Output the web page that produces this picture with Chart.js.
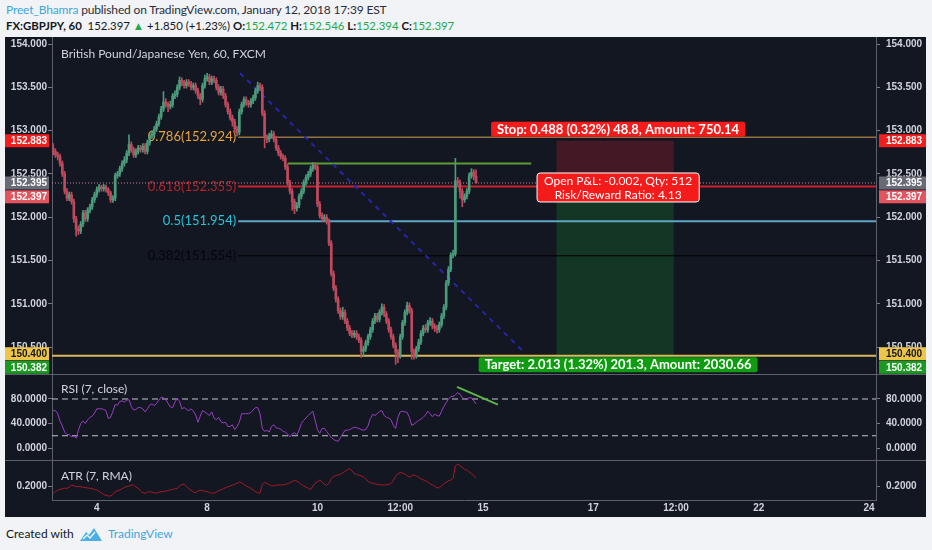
<!DOCTYPE html>
<html>
<head>
<meta charset="utf-8">
<title>GBPJPY 60</title>
<script src="https://cdn.jsdelivr.net/npm/chart.js@4.4.1/dist/chart.umd.min.js"></script>
<style>
  body { margin: 0; background: #f1f3f6; font-family: Lato, "Open Sans", sans-serif; }
  #page { position: relative; width: 932px; height: 550px; overflow: hidden; }
  .hdr { position: absolute; left: 6px; white-space: nowrap; }
  #h1 { top: 2px; font-size: 12px; letter-spacing: -0.15px; color: #2a2e39; }
  #h1 .user { color: #3ea6dd; }
  #h2 { top: 19px; font-size: 11.4px; color: #131722; }
  #h2 .g { color: #22a84a; }
  #dark { position: absolute; left: 5px; top: 37px; width: 921px; height: 480px; background: #131722; }
  canvas { position: absolute; left: 5px; }
  .sep { position: absolute; left: 5px; width: 921px; height: 1px; background: #5d606b; }
  #foot { position: absolute; left: 6px; top: 526px; font-size: 12px; color: #131722; display: flex; align-items: center; white-space: nowrap; }
  #foot .tv { color: #3ea6dd; margin-left: 6px; }
</style>
</head>
<body>
<div id="page">
  <div class="hdr" id="h1"><span class="user">Preet_Bhamra</span> published on TradingView.com, January 12, 2018 17:39 EST</div>
  <div class="hdr" id="h2"><b>FX:GBPJPY, 60</b>&nbsp; 152.397 <span class="g">&#9650;</span> +1.850 (+1.23%) <b>O:</b><span class="g">152.472</span> <b>H:</b><span class="g">152.546</span> <b>L:</b><span class="g">152.394</span> <b>C:</b><span class="g">152.397</span></div>
  <div id="dark"></div>
  <canvas id="main" width="921" height="337" style="top:37px"></canvas>
  <div class="sep" style="top:374px"></div>
  <canvas id="rsi" width="921" height="85" style="top:375px"></canvas>
  <div class="sep" style="top:460px"></div>
  <canvas id="atr" width="921" height="56" style="top:461px"></canvas>
  <div id="foot">Created with&nbsp;&nbsp;
    <svg width="22" height="14" viewBox="0 0 22 14"><path d="M0 14 L6 5 L9 8 L14 1 L22 14 Z" fill="#48b0e6"/><path d="M3 12 L7 8 L10 11 L15 5" stroke="#f1f3f6" stroke-width="1.4" fill="none"/></svg>
    <span class="tv">TradingView</span></div>
</div>
<script>
// hourly candles
var opens = [
  152.80,152.76,152.72,152.70,152.62,152.50,152.30,152.22,152.26,152.18,
  151.98,151.86,151.84,151.92,152.05,151.98,152.08,152.12,152.20,152.26,
  152.32,152.35,152.33,152.35,152.32,152.28,152.20,152.22,152.48,152.50,
  152.56,152.62,152.66,152.74,152.84,152.78,152.72,152.76,152.80,152.78,
  152.82,152.76,152.86,152.94,152.96,153.02,153.08,153.16,153.25,153.33,
  153.30,153.28,153.30,153.40,153.42,153.50,153.58,153.55,153.52,153.56,
  153.54,153.50,153.52,153.46,153.40,153.36,153.52,153.60,153.62,153.56,
  153.60,153.58,153.50,153.44,153.48,153.40,153.30,153.22,153.15,153.10,
  153.02,152.98,153.22,153.30,153.36,153.32,153.30,153.34,153.38,153.46,
  153.52,153.50,153.20,152.92,152.90,152.94,152.96,152.90,152.80,152.74,
  152.70,152.68,152.58,152.40,152.30,152.18,152.10,152.14,152.24,152.30,
  152.40,152.46,152.50,152.56,152.60,152.58,152.15,152.02,151.98,152.00,
  151.95,151.70,151.35,151.18,151.05,150.92,150.85,150.90,150.80,150.72,
  150.66,150.64,150.66,150.62,150.58,150.45,150.48,150.55,150.62,150.70,
  150.80,150.86,150.82,150.90,150.96,150.88,150.80,150.70,150.62,150.52,
  150.44,150.40,150.62,150.78,150.90,150.98,150.92,150.45,150.40,150.48,
  150.56,150.66,150.72,150.70,150.78,150.80,150.74,150.72,150.70,150.76,
  150.86,150.96,151.24,151.40,151.56,151.58,152.42,152.40,152.30,152.20,
  152.24,152.30,152.48,152.52,152.472
];
var highs = [
  152.85,152.79,152.75,152.73,152.65,152.53,152.33,152.29,152.29,152.21,
  152.01,151.90,151.95,152.08,152.08,152.11,152.15,152.23,152.29,152.35,
  152.38,152.37,152.38,152.37,152.34,152.30,152.25,152.51,152.53,152.59,
  152.65,152.70,152.77,152.95,152.87,152.81,152.79,152.83,152.83,152.85,
  152.85,152.89,152.97,153.00,153.05,153.11,153.19,153.28,153.45,153.37,
  153.33,153.34,153.43,153.46,153.53,153.62,153.61,153.58,153.59,153.59,
  153.57,153.55,153.55,153.49,153.43,153.55,153.64,153.66,153.65,153.63,
  153.63,153.61,153.53,153.51,153.51,153.43,153.33,153.25,153.18,153.13,
  153.05,153.25,153.33,153.39,153.39,153.35,153.37,153.41,153.49,153.56,
  153.55,153.53,153.23,152.95,152.97,153.00,152.99,152.93,152.83,152.77,
  152.73,152.71,152.61,152.43,152.33,152.21,152.17,152.27,152.33,152.43,
  152.49,152.53,152.59,152.63,152.63,152.61,152.18,152.05,152.03,152.03,
  151.98,151.73,151.38,151.21,151.08,150.95,150.96,150.93,150.83,150.75,
  150.69,150.69,150.69,150.65,150.61,150.51,150.58,150.65,150.73,150.83,
  150.89,150.89,150.93,151.00,150.99,150.91,150.83,150.73,150.65,150.55,
  150.47,150.65,150.81,150.93,151.02,151.01,150.95,150.48,150.51,150.59,
  150.69,150.75,150.76,150.81,150.84,150.83,150.77,150.75,150.79,150.89,
  150.99,151.27,151.43,151.59,151.62,152.68,152.46,152.43,152.33,152.27,
  152.33,152.51,152.56,152.55,152.546
];
var lows = [
  152.72,152.69,152.66,152.59,152.47,152.27,152.19,152.19,152.15,151.94,
  151.78,151.80,151.81,151.89,151.95,151.95,152.05,152.09,152.17,152.23,
  152.29,152.30,152.30,152.29,152.25,152.17,152.17,152.19,152.45,152.47,
  152.53,152.59,152.63,152.71,152.75,152.69,152.69,152.73,152.75,152.75,
  152.73,152.73,152.83,152.91,152.93,152.99,153.05,153.13,153.22,153.27,
  153.22,153.25,153.27,153.37,153.39,153.47,153.52,153.49,153.49,153.51,
  153.47,153.47,153.43,153.37,153.30,153.33,153.49,153.57,153.53,153.53,
  153.55,153.47,153.41,153.41,153.37,153.27,153.19,153.12,153.05,152.97,
  152.94,152.95,153.19,153.27,153.29,153.27,153.27,153.31,153.35,153.43,
  153.46,153.17,152.80,152.86,152.87,152.91,152.87,152.77,152.71,152.67,
  152.65,152.55,152.37,152.27,152.08,152.04,152.07,152.11,152.21,152.27,
  152.37,152.43,152.47,152.53,152.55,152.12,151.99,151.95,151.95,151.92,
  151.67,151.32,151.15,151.02,150.89,150.82,150.82,150.77,150.69,150.63,
  150.61,150.61,150.59,150.55,150.38,150.40,150.45,150.52,150.59,150.67,
  150.77,150.79,150.79,150.87,150.85,150.77,150.67,150.59,150.49,150.30,
  150.32,150.37,150.59,150.75,150.87,150.89,150.36,150.36,150.37,150.45,
  150.53,150.63,150.67,150.67,150.75,150.71,150.68,150.66,150.67,150.73,
  150.83,150.93,151.21,151.37,151.53,151.55,152.36,152.22,152.12,152.17,
  152.21,152.27,152.45,152.43,152.394
];
var closes = [
  152.76,152.72,152.70,152.62,152.50,152.30,152.22,152.26,152.18,151.98,
  151.86,151.84,151.92,152.05,151.98,152.08,152.12,152.20,152.26,152.32,
  152.35,152.33,152.35,152.32,152.28,152.20,152.22,152.48,152.50,152.56,
  152.62,152.66,152.74,152.84,152.78,152.72,152.76,152.80,152.78,152.82,
  152.76,152.86,152.94,152.96,153.02,153.08,153.16,153.25,153.33,153.30,
  153.28,153.30,153.40,153.42,153.50,153.58,153.55,153.52,153.56,153.54,
  153.50,153.52,153.46,153.40,153.36,153.52,153.60,153.62,153.56,153.60,
  153.58,153.50,153.44,153.48,153.40,153.30,153.22,153.15,153.10,153.02,
  152.98,153.22,153.30,153.36,153.32,153.30,153.34,153.38,153.46,153.52,
  153.50,153.20,152.92,152.90,152.94,152.96,152.90,152.80,152.74,152.70,
  152.68,152.58,152.40,152.30,152.18,152.10,152.14,152.24,152.30,152.40,
  152.46,152.50,152.56,152.60,152.58,152.15,152.02,151.98,152.00,151.95,
  151.70,151.35,151.18,151.05,150.92,150.85,150.90,150.80,150.72,150.66,
  150.64,150.66,150.62,150.58,150.45,150.48,150.55,150.62,150.70,150.80,
  150.86,150.82,150.90,150.96,150.88,150.80,150.70,150.62,150.52,150.44,
  150.40,150.62,150.78,150.90,150.98,150.92,150.45,150.40,150.48,150.56,
  150.66,150.72,150.70,150.78,150.80,150.74,150.72,150.70,150.76,150.86,
  150.96,151.24,151.40,151.56,151.58,152.42,152.40,152.30,152.20,152.24,
  152.30,152.48,152.52,152.47,152.397
];
var rsi = [
  61,61,56,44,36,26,22,22,18,20,
  16,29,40,44,40,46,50,52,57,64,
  64,64,63,61,48,50,60,71,70,76,
  77,75,78,79,68,62,63,66,66,64,
  59,64,70,72,69,73,78,83,82,79,
  73,67,66,75,81,76,64,66,63,61,
  64,60,54,42,52,61,59,56,53,59,
  49,46,50,43,41,42,35,35,38,30,
  35,42,56,56,56,56,58,62,66,66,
  56,32,27,29,26,35,38,33,32,31,
  27,26,23,18,23,25,21,29,40,45,
  49,53,57,60,45,30,24,32,32,27,
  22,17,14,12,11,17,23,29,29,30,
  32,34,33,32,30,29,30,36,48,55,
  53,56,60,61,53,50,49,46,37,32,
  50,59,60,59,58,50,37,39,42,45,
  47,50,54,60,56,51,55,53,52,60,
  68,74,80,84,84,87,90,88,82,80,
  80,82,82,77,72
];
var atr = [
  0.174,0.180,0.185,0.188,0.190,0.192,0.192,0.196,0.203,0.201,
  0.198,0.198,0.197,0.196,0.195,0.193,0.192,0.190,0.188,0.186,
  0.180,0.175,0.170,0.166,0.165,0.164,0.170,0.180,0.183,0.186,
  0.190,0.195,0.198,0.200,0.203,0.204,0.196,0.192,0.182,0.176,
  0.174,0.178,0.180,0.178,0.176,0.174,0.178,0.180,0.180,0.182,
  0.184,0.186,0.188,0.190,0.192,0.200,0.205,0.206,0.198,0.191,
  0.184,0.178,0.176,0.182,0.185,0.183,0.181,0.180,0.177,0.175,
  0.174,0.178,0.184,0.186,0.190,0.194,0.197,0.200,0.203,0.206,
  0.210,0.214,0.212,0.206,0.200,0.196,0.192,0.186,0.180,0.176,
  0.174,0.205,0.213,0.209,0.205,0.200,0.201,0.203,0.204,0.204,
  0.204,0.206,0.208,0.212,0.216,0.220,0.218,0.212,0.206,0.200,
  0.196,0.192,0.187,0.200,0.210,0.216,0.221,0.214,0.206,0.202,
  0.210,0.226,0.233,0.238,0.240,0.242,0.247,0.252,0.258,0.262,
  0.255,0.244,0.242,0.239,0.236,0.233,0.226,0.216,0.212,0.210,
  0.208,0.206,0.204,0.204,0.204,0.204,0.206,0.209,0.220,0.235,
  0.244,0.248,0.246,0.243,0.237,0.232,0.236,0.240,0.236,0.231,
  0.226,0.222,0.219,0.214,0.208,0.204,0.199,0.194,0.193,0.201,
  0.208,0.213,0.219,0.221,0.228,0.272,0.278,0.273,0.266,0.259,
  0.257,0.250,0.244,0.236,0.230
];

// time axis (candle index of each label)
var xTickPos = [19, 67, 115, 151, 187, 235, 271, 307, 355];
var xTickText = ['4', '8', '10', '12:00', '15', '17', '12:00', '22', '24'];
var priceTicks = [150.5, 151, 151.5, 152, 152.5, 153, 153.5, 154];
var rsiTicks = [0, 40, 80];
var atrTicks = [0.2];

// drawings on the chart
var fibRatios = ['0.786', '0.618', '0.5', '0.382'];
var fibPrices = [152.924, 152.355, 151.954, 151.554];
var fibStartX = 80.5;
var entryPrice = 152.395, stopPrice = 152.883, targetPrice = 150.382;
var lastPrice = 152.397, targetLevel = 150.400;
var zoneX = [219, 270];
var diagX = [81.3, 205.2], diagY = [153.665, 150.432];
var hLineX = [102, 208], hLinePrice = 152.62;
var rsiBands = [80, 20];
var rsiTrendX = [175.7, 193.5], rsiTrendY = [99.8, 70.9];
var stopText = 'Stop: 0.488 (0.32%) 48.8, Amount: 750.14';
var pnlText = ['Open P&L: -0.002, Qty: 512', 'Risk/Reward Ratio: 4.13'];
var targetText = 'Target: 2.013 (1.32%) 201.3, Amount: 2030.66';

var xMin = -0.5, xMax = 358;
var AX_FONT = { family: '"Liberation Sans", Arial, sans-serif', size: 10, weight: 'bold' };
var TXT = '#d1d4dc';

var idx = closes.map(function (c, i) { return i; });
var candleColors = closes.map(function (c, i) { return c >= opens[i] ? '#4b9c7b' : '#bf4a5d'; });

function seg(ctx, x0, y0, x1, y1, color, width, dash) {
  ctx.beginPath();
  ctx.setLineDash(dash || []);
  ctx.strokeStyle = color;
  ctx.lineWidth = width;
  ctx.moveTo(x0, y0);
  ctx.lineTo(x1, y1);
  ctx.stroke();
  ctx.setLineDash([]);
}
function rbox(ctx, x, y, w, h, r) {
  ctx.beginPath();
  ctx.moveTo(x + r, y);
  ctx.arcTo(x + w, y, x + w, y + h, r);
  ctx.arcTo(x + w, y + h, x, y + h, r);
  ctx.arcTo(x, y + h, x, y, r);
  ctx.arcTo(x, y, x + w, y, r);
  ctx.closePath();
}

function hiddenX() {
  return { type: 'linear', min: xMin, max: xMax, display: false, offset: false };
}
function yAxis(pos, min, max, ticks, fmt, width, pad) {
  return {
    type: 'linear', position: pos, min: min, max: max,
    afterBuildTicks: function (a) { a.ticks = ticks.map(function (v) { return { value: v }; }); },
    afterFit: function (s) { s.width = width; s.paddingTop = 0; s.paddingBottom = 0; },
    grid: { drawOnChartArea: false, drawTicks: true, tickLength: 4, color: '#787b86' },
    border: { display: true, color: '#5d606b' },
    ticks: { color: TXT, font: AX_FONT, padding: pad, callback: fmt }
  };
}
function baseOptions(scales) {
  return {
    responsive: false, animation: false,
    layout: { padding: 0 },
    plugins: { legend: { display: false }, tooltip: { enabled: false } },
    scales: scales
  };
}
function title(chart, text, y) {
  var ctx = chart.ctx;
  ctx.save();
  ctx.font = '12px Lato';
  ctx.fillStyle = TXT;
  ctx.textAlign = 'left';
  ctx.textBaseline = 'middle';
  ctx.fillText(text, chart.chartArea.left + 9, y);
  ctx.restore();
}

var mainOverlay = {
  id: 'mainOverlay',
  beforeDatasetsDraw: function (chart) {
    var ctx = chart.ctx, ca = chart.chartArea, x = chart.scales.x, y = chart.scales.y;
    ctx.save();
    ctx.beginPath(); ctx.rect(ca.left, ca.top, ca.width, ca.height); ctx.clip();
    var zx0 = x.getPixelForValue(zoneX[0]), zx1 = x.getPixelForValue(zoneX[1]);
    var yS = y.getPixelForValue(stopPrice), yE = y.getPixelForValue(entryPrice), yT = y.getPixelForValue(targetPrice);
    ctx.fillStyle = 'rgba(150,25,40,0.38)';
    ctx.fillRect(zx0, yS, zx1 - zx0, yE - yS);
    ctx.fillStyle = 'rgba(25,120,45,0.32)';
    ctx.fillRect(zx0, yE, zx1 - zx0, yT - yE);

    var fibLine = ['#d6a050', '#cc2230', '#5fa6c6', '#000000'];
    var fibText = ['#e9a33c', '#b3222c', '#22c6d8', '#05070c'];
    var fibWidth = [1, 2, 2, 1];
    var fx = x.getPixelForValue(fibStartX);
    ctx.font = '13px Lato';
    ctx.textAlign = 'right';
    ctx.textBaseline = 'middle';
    fibPrices.forEach(function (p, k) {
      var py = y.getPixelForValue(p);
      seg(ctx, fx, py, ca.right, py, fibLine[k], fibWidth[k]);
      ctx.fillStyle = fibText[k];
      ctx.fillText(fibRatios[k] + '(' + p.toFixed(3) + ')', fx - 2, py);
    });
    var gy = y.getPixelForValue(hLinePrice);
    seg(ctx, x.getPixelForValue(hLineX[0]), gy, x.getPixelForValue(hLineX[1]), gy, '#5c9c34', 2);
    var ey = y.getPixelForValue(entryPrice);
    seg(ctx, ca.left, ey, ca.right, ey, 'rgba(235,150,170,0.85)', 1, [1, 2]);
    var ty = y.getPixelForValue(targetLevel);
    seg(ctx, ca.left, ty, ca.right, ty, '#d8b957', 2);
    seg(ctx, x.getPixelForValue(diagX[0]), y.getPixelForValue(diagY[0]),
      x.getPixelForValue(diagX[1]), y.getPixelForValue(diagY[1]), '#2626a8', 2, [5, 5]);
    ctx.restore();
  },
  afterDraw: function (chart) {
    var ctx = chart.ctx, ca = chart.chartArea, x = chart.scales.x, y = chart.scales.y;
    title(chart, 'British Pound/Japanese Yen, 60, FXCM', 17);
    ctx.save();
    var cx = (x.getPixelForValue(zoneX[0]) + x.getPixelForValue(zoneX[1])) / 2 + 3;
    var yS = y.getPixelForValue(stopPrice), yE = y.getPixelForValue(entryPrice), yT = y.getPixelForValue(targetPrice);
    ctx.textAlign = 'center';
    ctx.textBaseline = 'middle';
    // stop label
    ctx.font = 'bold 13px Lato';
    var w = ctx.measureText(stopText).width + 12;
    ctx.fillStyle = '#f51b1b';
    rbox(ctx, cx - w / 2, yS - 19, w, 15, 2); ctx.fill();
    ctx.fillStyle = '#ffffff';
    ctx.fillText(stopText, cx, yS - 11);
    // P&L label
    ctx.font = '12px Lato';
    w = Math.max(ctx.measureText(pnlText[0]).width, ctx.measureText(pnlText[1]).width) + 14;
    ctx.fillStyle = '#f51b1b';
    rbox(ctx, cx - w / 2, yE - 10, w, 29, 3); ctx.fill();
    ctx.strokeStyle = '#ffffff'; ctx.lineWidth = 1; ctx.stroke();
    ctx.fillStyle = '#ffffff';
    ctx.fillText(pnlText[0], cx, yE - 2);
    ctx.fillText(pnlText[1], cx, yE + 12);
    // target label
    ctx.font = 'bold 13px Lato';
    w = ctx.measureText(targetText).width + 12;
    ctx.fillStyle = '#0f9c12';
    rbox(ctx, cx - w / 2, yT, w, 15, 2); ctx.fill();
    ctx.fillStyle = '#ffffff';
    ctx.fillText(targetText, cx, yT + 8);

    // price marks on both axes
    var marks = [
      { p: stopPrice, bg: '#f21d1d', fg: '#ffffff', dy: 0 },
      { p: entryPrice, bg: '#686b76', fg: '#ffffff', dy: 0 },
      { p: lastPrice, bg: '#e2555f', fg: '#ffffff', dy: 14 },
      { p: targetLevel, bg: '#eec548', fg: '#131722', dy: -2 },
      { p: targetPrice, bg: '#1b9a22', fg: '#ffffff', dy: 10 }
    ];
    ctx.font = 'bold 10px "Liberation Sans", Arial, sans-serif';
    var W = chart.width;
    marks.forEach(function (m) {
      var my = y.getPixelForValue(m.p) + m.dy;
      ctx.fillStyle = m.bg;
      ctx.fillRect(0, my - 6.5, ca.left - 3, 13);
      ctx.fillRect(ca.right + 3, my - 6.5, W - ca.right - 3, 13);
      ctx.fillStyle = m.fg;
      ctx.textAlign = 'right';
      ctx.fillText(m.p.toFixed(3), ca.left - 5, my + 0.5);
      ctx.textAlign = 'left';
      ctx.fillText(m.p.toFixed(3), ca.right + 10, my + 0.5);
    });
    ctx.restore();
  }
};

var rsiOverlay = {
  id: 'rsiOverlay',
  beforeDatasetsDraw: function (chart) {
    var ctx = chart.ctx, ca = chart.chartArea, y = chart.scales.y;
    ctx.save();
    rsiBands.forEach(function (b) {
      var by = y.getPixelForValue(b);
      seg(ctx, ca.left, by, ca.right, by, '#c3c6ce', 1, [6, 4]);
    });
    ctx.restore();
  },
  afterDatasetsDraw: function (chart) {
    var ctx = chart.ctx, x = chart.scales.x, y = chart.scales.y;
    ctx.save();
    seg(ctx, x.getPixelForValue(rsiTrendX[0]), y.getPixelForValue(rsiTrendY[0]),
      x.getPixelForValue(rsiTrendX[1]), y.getPixelForValue(rsiTrendY[1]), '#5fb646', 2);
    ctx.restore();
  },
  afterDraw: function (chart) { title(chart, 'RSI (7, close)', 14); }
};

var atrOverlay = {
  id: 'atrOverlay',
  afterDraw: function (chart) { title(chart, 'ATR (7, RMA)', 15); }
};

var fmt3 = function (v) { return Number(v).toFixed(3); };
var fmt4 = function (v) { return Number(v).toFixed(4); };

new Chart(document.getElementById('main'), {
  type: 'bar',
  data: {
    datasets: [
      { label: 'wick', data: idx.map(function (i) { return { x: i, y: [lows[i], highs[i]] }; }),
        backgroundColor: candleColors, barThickness: 1, grouped: false, order: 2 },
      { label: 'body', data: idx.map(function (i) { return { x: i, y: [opens[i], closes[i]] }; }),
        backgroundColor: candleColors, barThickness: 2, minBarLength: 1, grouped: false, order: 1 }
    ]
  },
  options: baseOptions({
    x: hiddenX(),
    y: yAxis('left', 150.189, 154.081, priceTicks, fmt3, 47, 1),
    y2: yAxis('right', 150.189, 154.081, priceTicks, fmt3, 50, 6)
  }),
  plugins: [mainOverlay]
});

new Chart(document.getElementById('rsi'), {
  type: 'line',
  data: {
    datasets: [{ label: 'RSI', data: idx.map(function (i) { return { x: i, y: rsi[i] }; }),
      borderColor: '#9b3fc6', borderWidth: 1, pointRadius: 0, tension: 0 }]
  },
  options: baseOptions({
    x: hiddenX(),
    y: yAxis('left', -19.59, 119.18, rsiTicks, fmt4, 47, 1),
    y2: yAxis('right', -19.59, 119.18, rsiTicks, fmt4, 50, 6)
  }),
  plugins: [rsiOverlay]
});

new Chart(document.getElementById('atr'), {
  type: 'line',
  data: {
    datasets: [{ label: 'ATR', data: idx.map(function (i) { return { x: i, y: atr[i] }; }),
      borderColor: '#a8192a', borderWidth: 1, pointRadius: 0, tension: 0 }]
  },
  options: baseOptions({
    x: {
      type: 'linear', min: xMin, max: xMax, position: 'bottom', offset: false,
      afterBuildTicks: function (a) { a.ticks = xTickPos.map(function (v) { return { value: v }; }); },
      afterFit: function (s) { s.height = 17; s.paddingLeft = 0; s.paddingRight = 0; },
      grid: { drawOnChartArea: false, drawTicks: false },
      border: { display: true, color: '#5d606b' },
      ticks: { color: TXT, font: AX_FONT, padding: 2, maxRotation: 0, autoSkip: false,
        callback: function (v, i) { return xTickText[i]; } }
    },
    y: yAxis('left', 0.15, 0.2893, atrTicks, fmt4, 47, 1),
    y2: yAxis('right', 0.15, 0.2893, atrTicks, fmt4, 50, 6)
  }),
  plugins: [atrOverlay]
});
</script>
</body>
</html>
